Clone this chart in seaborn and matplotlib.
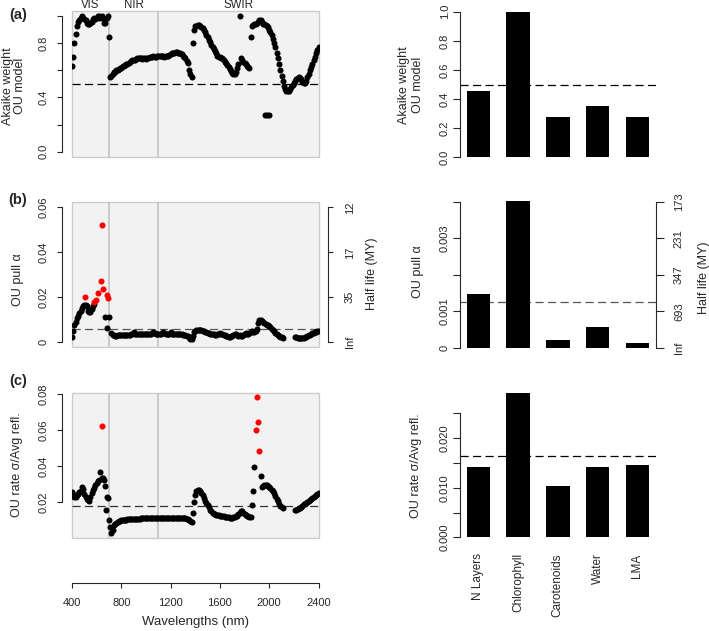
import numpy as np
import pandas as pd
import seaborn as sns
import matplotlib
matplotlib.use('Agg')
import matplotlib.pyplot as plt
from matplotlib.patches import Rectangle

sns.set_style('ticks')
plt.rcParams['font.family'] = ['Liberation Sans', 'DejaVu Sans']

nan = np.nan

# wavelength grid of the spectral panels (10 nm steps)
wavelengths = np.arange(400, 2410, 10)

# (a) Akaike weight of the OU model per wavelength
akaike_wl = [
    0.63, 0.70, 0.80, 0.87, 0.93, 0.96, 0.97, 0.99, 1.00, 0.99,
    0.98, 0.97, 0.95, 0.94, 0.94, 0.95, 0.96, 0.98, 0.99, 0.98,
    0.99, 1.00, 1.00, 0.99, 1.00, 0.99, 0.95, 0.95, 0.99, 1.00,
    0.85, 0.55, 0.56, 0.575, 0.585, 0.59, 0.60, 0.605, 0.61, 0.615,
    0.62, 0.63, 0.635, 0.64, 0.645, 0.65, 0.655, 0.665, 0.67, 0.675,
    0.68, 0.68, 0.685, 0.69, 0.69, 0.695, 0.69, 0.685, 0.69, 0.69,
    0.685, 0.69, 0.695, 0.70, 0.70, 0.70, 0.705, 0.70, 0.70, 0.705,
    0.71, 0.705, 0.71, 0.705, 0.705, 0.70, 0.705, 0.71, 0.71, 0.715,
    0.72, 0.725, 0.73, 0.73, 0.735, 0.735, 0.73, 0.73, 0.725, 0.72,
    0.71, 0.70, 0.69, 0.67, 0.655, 0.60, 0.57, 0.55, 0.80, 0.90,
    0.925, 0.93, 0.935, 0.935, 0.93, 0.92, 0.91, 0.895, 0.88, 0.86,
    0.845, 0.825, 0.81, 0.79, 0.775, 0.755, 0.74, 0.725, 0.71, 0.70,
    0.70, 0.695, 0.69, 0.68, 0.665, 0.655, 0.64, 0.625, 0.61, 0.595,
    0.58, 0.57, 0.575, 0.59, 0.615, 0.645, 1.00, 0.69, 0.675, 0.665,
    0.655, 0.645, 0.635, 0.625, 0.62, 0.85, 0.93, 0.935, 0.94, 0.945,
    0.95, 0.96, 0.97, 0.975, 0.955, 0.945, 0.94, 0.935, 0.93, 0.92,
    0.90, 0.885, 0.865, 0.835, 0.80, 0.77, 0.73, 0.69, 0.645, 0.60,
    0.56, 0.52, 0.485, 0.46, 0.445, 0.445, 0.45, 0.46, 0.475, 0.49,
    0.505, 0.52, 0.535, 0.545, 0.55, 0.545, 0.535, 0.515, 0.51, 0.51,
    0.525, 0.55, 0.575, 0.60, 0.625, 0.65, 0.675, 0.70, 0.725, 0.75,
    0.77,
]
akaike_extra_nm = [1965, 1985, 2000]
akaike_extra = [0.27, 0.27, 0.27]

# (b) OU pull alpha per wavelength
alpha_wl = [
    0.0025, 0.0050, 0.0075, 0.0092, 0.0108, 0.0118, 0.0130, 0.0140, 0.0152, 0.0163,
    0.0167, 0.0168, 0.0160, 0.0137, 0.0134, 0.0136, 0.0150, 0.0162, 0.0170, nan,
    nan, nan, nan, nan, nan, nan, nan, 0.0114, 0.0065, nan,
    0.0114, nan, 0.0042, 0.0034, 0.0031, 0.0030, 0.0030, 0.0031, 0.0031, 0.0032,
    0.0032, 0.0032, 0.0033, 0.0033, 0.0033, 0.0034, 0.0034, 0.0034, 0.0035, 0.0038,
    0.0044, 0.0037, 0.0035, 0.0035, 0.0035, 0.0036, 0.0036, 0.0036, 0.0036, 0.0037,
    0.0037, 0.0037, 0.0037, 0.0038, 0.0038, 0.0042, 0.0046, 0.0040, 0.0038, 0.0038,
    0.0038, 0.0038, 0.0038, 0.0040, 0.0045, 0.0040, 0.0039, 0.0038, 0.0038, 0.0039,
    0.0044, 0.0039, 0.0038, 0.0038, 0.0037, 0.0037, 0.0036, 0.0036, 0.0036, 0.0035,
    0.0034, 0.0033, 0.0032, 0.0030, 0.0028, 0.0022, 0.0016, 0.0016, 0.0027, 0.0045,
    0.0052, 0.0054, 0.0055, 0.0055, 0.0054, 0.0053, 0.0051, 0.0049, 0.0047, 0.0045,
    0.0043, 0.0041, 0.0039, 0.0038, 0.0036, 0.0035, 0.0034, 0.0034, 0.0035, 0.0037,
    0.0040, 0.0038, 0.0035, 0.0033, 0.0031, 0.0029, 0.0027, 0.0025, 0.0024, 0.0026,
    0.0030, 0.0034, 0.0038, 0.0036, 0.0032, 0.0030, 0.0031, 0.0030, 0.0029, 0.0032,
    0.0036, 0.0040, 0.0038, 0.0035, 0.0042, 0.0048, 0.0050, 0.0046, 0.0044, 0.0050,
    0.0060, 0.0085, 0.0097, 0.0099, 0.0095, 0.0090, 0.0086, 0.0082, 0.0079, 0.0076,
    0.0072, 0.0067, 0.0061, 0.0055, 0.0049, 0.0043, 0.0037, 0.0032, 0.0027, 0.0024,
    0.0022, 0.0021, nan, nan, nan, nan, nan, nan, nan, nan,
    nan, 0.0023, 0.0022, 0.0021, 0.0020, 0.0019, 0.0019, 0.0019, 0.0020, 0.0022,
    0.0025, 0.0028, 0.0031, 0.0034, 0.0037, 0.0040, 0.0043, 0.0045, 0.0047, 0.0049,
    0.0050,
]
alpha_red_nm = [505, 580, 598, 615, 634, 642, 653, 680, 695]
alpha_red = [0.0203, 0.0181, 0.0190, 0.0220, 0.0274, 0.0522, 0.0239, 0.0212, 0.0196]

# (c) OU rate sigma / average reflectance per wavelength
sigma_wl = [
    0.0255, 0.0240, 0.0232, 0.0232, 0.0238, 0.0246, 0.0255, 0.0265, 0.0283, 0.0272,
    0.0245, 0.0228, 0.0220, 0.0212, 0.0210, 0.0228, 0.0252, 0.0268, 0.0280, 0.0295,
    0.0308, 0.0316, 0.0322, 0.0370, 0.0335, 0.0333, 0.0325, 0.0290, 0.0232, 0.0222,
    0.0102, 0.0065, 0.0030, 0.0048, 0.0072, 0.0080, 0.0088, 0.0093, 0.0096, 0.0098,
    0.0100, 0.0102, 0.0103, 0.0104, 0.0105, 0.0106, 0.0106, 0.0107, 0.0107, 0.0108,
    0.0108, 0.0109, 0.0109, 0.0110, 0.0110, 0.0110, 0.0111, 0.0111, 0.0111, 0.0112,
    0.0112, 0.0112, 0.0113, 0.0113, 0.0113, 0.0114, 0.0114, 0.0114, 0.0114, 0.0115,
    0.0115, 0.0115, 0.0115, 0.0116, 0.0116, 0.0116, 0.0116, 0.0116, 0.0116, 0.0116,
    0.0116, 0.0116, 0.0116, 0.0116, 0.0116, 0.0115, 0.0115, 0.0115, 0.0115, 0.0114,
    0.0114, 0.0113, 0.0112, 0.0110, 0.0106, 0.0100, 0.0094, 0.0090, 0.0140, 0.0200,
    0.0240, 0.0262, 0.0270, 0.0268, 0.0262, 0.0252, 0.0238, 0.0225, 0.0210, 0.0196,
    0.0185, 0.0172, 0.0160, 0.0150, 0.0143, 0.0138, 0.0134, 0.0131, 0.0130, 0.0128,
    0.0126, 0.0125, 0.0124, 0.0123, 0.0121, 0.0119, 0.0118, 0.0117, 0.0116, 0.0116,
    0.0116, 0.0117, 0.0119, 0.0122, 0.0127, 0.0133, 0.0142, 0.0150, 0.0150, 0.0143,
    0.0137, 0.0132, 0.0126, 0.0123, 0.0120, 0.0118, 0.0185, 0.0262, 0.0395, nan,
    nan, nan, nan, 0.0345, 0.0282, 0.0288, 0.0295, 0.0298, 0.0296, 0.0292,
    0.0287, 0.0280, 0.0270, 0.0262, 0.0250, 0.0235, 0.0220, 0.0205, 0.0192, 0.0180,
    0.0172, 0.0170, nan, nan, nan, nan, nan, nan, nan, nan,
    nan, 0.0157, 0.0158, 0.0162, 0.0166, 0.0171, 0.0176, 0.0182, 0.0188, 0.0192,
    0.0196, 0.0200, 0.0206, 0.0212, 0.0218, 0.0224, 0.0230, 0.0236, 0.0242, 0.0248,
    0.0254,
]
sigma_extra_nm = [675]
sigma_extra = [0.0158]
sigma_red_nm = [640, 1890, 1900, 1910, 1920]
sigma_red = [0.0623, 0.0600, 0.0780, 0.0646, 0.0481]

# trait panels
traits = ['N Layers', 'Chlorophyll', 'Carotenoids', 'Water', 'LMA']
akaike_trait = [0.457, 1.0, 0.277, 0.35, 0.277]
alpha_trait = [0.00147, 0.00403, 0.00021, 0.00058, 0.000145]
sigma_trait = [0.0141, 0.0290, 0.0104, 0.0141, 0.0145]

# reference levels (dashed lines)
akaike_ref = 0.5
alpha_ref_wl, alpha_ref_trait = 0.0058, 0.00127
sigma_ref_wl, sigma_ref_trait = 0.018, 0.0164

W, H = 709, 631
fig = plt.figure(figsize=(W / 100, H / 100), dpi=100)


def add_ax(l, t, r, b):
    return fig.add_axes([l / W, 1 - b / H, (r - l) / W, (b - t) / H])


def px_text(x, y, s, **kw):
    fig.text(x / W, 1 - y / H, s, ha='center', va='center', **kw)


dash = (0, (6.5, 3.5))
dot_size = 19


def spectral_panel(ax, vals, ylim, ref, ref_color, red_nm=None, red=None,
                   extra_nm=None, extra=None):
    ax.set_xlim(400, 2400)
    ax.set_ylim(*ylim)
    ax.set_facecolor('none')
    ax.add_patch(Rectangle((0, 0), 1, 1, transform=ax.transAxes, fc='#f2f2f2',
                           ec='#cccccc', lw=1, zorder=0, clip_on=False))
    for x in (700, 1100):
        ax.axvline(x, color='#c2c2c2', lw=1.2, zorder=1)
    ax.axhline(ref, color=ref_color, lw=0.9, ls=dash, zorder=2)
    sns.scatterplot(x=wavelengths, y=vals, color='black', s=dot_size, linewidth=0,
                    ax=ax, zorder=3)
    if extra is not None:
        sns.scatterplot(x=extra_nm, y=extra, color='black', s=dot_size, linewidth=0,
                        ax=ax, zorder=3)
    if red is not None:
        sns.scatterplot(x=red_nm, y=red, color='#ff0000', s=dot_size, linewidth=0,
                        ax=ax, zorder=4)
    for s in ('top', 'right', 'bottom'):
        ax.spines[s].set_visible(False)
    ax.spines['left'].set_position(('outward', 7))
    ax.spines['left'].set_linewidth(0.8)
    ax.set_xticks([])
    ax.set_xlabel('')
    ax.set_ylabel('')
    ax.tick_params(axis='y', length=3.6, width=0.8, labelsize=8, pad=6,
                   labelrotation=90)


def trait_panel(ax, vals, ylim, ref, ref_color):
    ax.axhline(ref, color=ref_color, lw=0.9, ls=dash, zorder=1)
    sns.barplot(x=traits, y=vals, color='black', width=0.59, saturation=1,
                errorbar=None, linewidth=0, ax=ax, zorder=3)
    for p in ax.patches:
        p.set_clip_on(False)
    ax.set_xlim(-0.46, 4.47)
    ax.set_ylim(*ylim)
    ax.set_facecolor('none')
    for s in ('top', 'right', 'bottom'):
        ax.spines[s].set_visible(False)
    ax.spines['left'].set_linewidth(0.8)
    ax.set_xlabel('')
    ax.set_ylabel('')
    ax.tick_params(axis='y', length=5.4, width=0.8, labelsize=8, pad=2,
                   labelrotation=90)


# ---- left column: spectra
ax_a = add_ax(72, 10.8, 318.5, 157.1)
spectral_panel(ax_a, akaike_wl, (-0.04, 1.04), akaike_ref, 'black',
               extra_nm=akaike_extra_nm, extra=akaike_extra)
ax_a.set_yticks([0, 0.2, 0.4, 0.6, 0.8, 1.0])
ax_a.set_yticklabels(['0.0', '', '0.4', '', '0.8', ''], va='center')
ax_a.spines['left'].set_bounds(0, 1)
for x, s in ((550, 'VIS'), (900, 'NIR'), (1750, 'SWIR')):
    ax_a.text(x, 1.016, s, transform=ax_a.get_xaxis_transform(), ha='center',
              va='baseline', fontsize=8.3)

ax_b = add_ax(72, 201.7, 318.5, 346.8)
spectral_panel(ax_b, alpha_wl, (-0.002, 0.0625), alpha_ref_wl, '#555555',
               red_nm=alpha_red_nm, red=alpha_red)
ax_b.set_yticks([0, 0.02, 0.04, 0.06])
ax_b.set_yticklabels(['0', '0.02', '0.04', '0.06'], va='center')
ax_b.spines['left'].set_bounds(0, 0.06)
tw_b = ax_b.twinx()
tw_b.set_ylim(ax_b.get_ylim())
for s in ('top', 'left', 'bottom'):
    tw_b.spines[s].set_visible(False)
tw_b.spines['right'].set_position(('outward', 7))
tw_b.spines['right'].set_bounds(0, 0.06)
tw_b.spines['right'].set_linewidth(0.8)
tw_b.set_yticks([0, 0.02, 0.04, 0.06])
tw_b.set_yticklabels(['Inf', '35', '17', '12'], va='center')
tw_b.tick_params(axis='y', length=3.6, width=0.8, labelsize=8, pad=8.5,
                 labelrotation=90)

ax_c = add_ax(72, 392.7, 318.5, 537.7)
spectral_panel(ax_c, sigma_wl, (0.00044, 0.0806), sigma_ref_wl, '#333333',
               red_nm=sigma_red_nm, red=sigma_red,
               extra_nm=sigma_extra_nm, extra=sigma_extra)
ax_c.set_yticks([0.02, 0.04, 0.06, 0.08])
ax_c.set_yticklabels(['0.02', '0.04', '0.06', '0.08'], va='center')
ax_c.spines['left'].set_bounds(0.02, 0.08)
ax_c.spines['bottom'].set_visible(True)
ax_c.spines['bottom'].set_position(('outward', 32.6))
ax_c.spines['bottom'].set_bounds(400, 2400)
ax_c.spines['bottom'].set_linewidth(0.8)
ax_c.set_xticks([400, 800, 1200, 1600, 2000, 2400])
ax_c.set_xticklabels(['400', '800', '1200', '1600', '2000', '2400'])
ax_c.tick_params(axis='x', length=3.6, width=0.8, labelsize=8, pad=7)

# ---- right column: traits
bx_a = add_ax(460, 11.7, 656, 157.3)
trait_panel(bx_a, akaike_trait, (0, 1.0), akaike_ref, 'black')
bx_a.set_yticks([0, 0.2, 0.4, 0.6, 0.8, 1.0])
bx_a.set_yticklabels(['0.0', '0.2', '0.4', '0.6', '0.8', '1.0'], va='center')
bx_a.set_xticks([])

bx_b = add_ax(460, 201.8, 656, 348)
trait_panel(bx_b, alpha_trait, (0, 0.004), alpha_ref_trait, '#555555')
bx_b.set_yticks([0, 0.001, 0.002, 0.003, 0.004])
bx_b.set_yticklabels(['0', '0.001', '', '0.003', ''], va='center')
bx_b.set_xticks([])
tw2 = bx_b.twinx()
tw2.set_ylim(0, 0.004)
for s in ('top', 'left', 'bottom'):
    tw2.spines[s].set_visible(False)
tw2.spines['right'].set_linewidth(0.8)
tw2.set_yticks([0, 0.001, 0.002, 0.003, 0.004])
tw2.set_yticklabels(['Inf', '693', '347', '231', '173'], va='center')
tw2.tick_params(axis='y', length=5.4, width=0.8, labelsize=8, pad=7.5,
                labelrotation=90)

bx_c = add_ax(460, 413.3, 656, 537.3)
trait_panel(bx_c, sigma_trait, (0, 0.025), sigma_ref_trait, 'black')
bx_c.set_yticks([0, 0.005, 0.01, 0.015, 0.02, 0.025])
bx_c.set_yticklabels(['0.000', '', '0.010', '', '0.020', ''], va='center')
bx_c.set_xticks(range(len(traits)))
bx_c.set_xticklabels(traits, rotation=90, va='top', ha='center')
bx_c.tick_params(axis='x', length=0, labelsize=8.5, pad=11.5)

# ---- labels
px_text(14, 86, 'Akaike weight\nOU model', rotation=90, fontsize=9, linespacing=1.0)
px_text(18, 280, 'OU pull α', rotation=90, fontsize=9)
px_text(17, 465, 'OU rate σ/Avg refl.', rotation=90, fontsize=9)
px_text(372, 274, 'Half life (MY)', rotation=90, fontsize=9)
px_text(195, 622, 'Wavelengths (nm)', fontsize=9.5)

px_text(411, 85, 'Akaike weight\nOU model', rotation=90, fontsize=9, linespacing=1.2)
px_text(418, 272, 'OU pull α', rotation=90, fontsize=9)
px_text(416, 466, 'OU rate σ/Avg refl.', rotation=90, fontsize=9)
px_text(704, 278, 'Half life (MY)', rotation=90, fontsize=9)

for y, s in ((15, '(a)'), (200, '(b)'), (381, '(c)')):
    px_text(18, y, s, fontsize=10.5, fontweight='bold')

fig.savefig('out.png', dpi=100)
